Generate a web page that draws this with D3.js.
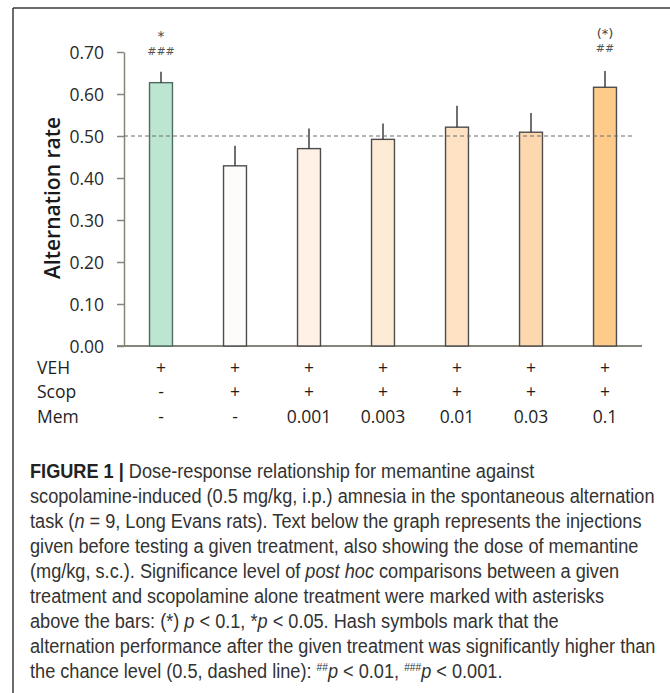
<!DOCTYPE html>
<html>
<head>
<meta charset="utf-8">
<script src="https://cdn.jsdelivr.net/npm/d3@7"></script>
<style>
  html, body { margin: 0; padding: 0; background: #fff; }
  svg { display: block; }
</style>
</head>
<body>
<div id="chart"></div>
<script>
// data
const groups = ["g1", "g2", "g3", "g4", "g5", "g6", "g7"];
const means = [0.627, 0.429, 0.470, 0.492, 0.521, 0.509, 0.616];
const sem = [0.026, 0.048, 0.048, 0.038, 0.051, 0.046, 0.039];
const yTicks = [0, 0.1, 0.2, 0.3, 0.4, 0.5, 0.6, 0.7];
const chanceLevel = 0.5;
const rowNames = ["VEH", "Scop", "Mem"];
const vehRow = ["+", "+", "+", "+", "+", "+", "+"];
const scopRow = ["-", "+", "+", "+", "+", "+", "+"];
const memRow = ["-", "-", "0.001", "0.003", "0.01", "0.03", "0.1"];
const starLabels = ["*", "", "", "", "", "", "(*)"];
const hashLabels = ["###", "", "", "", "", "", "##"];
const barColors = ["#bde6d2", "#fefcfa", "#fff1e5", "#feebd6", "#fee2c3", "#fdd8ae", "#fecb8b"];

const width = 670;
const height = 693;

const svg = d3
  .select("#chart")
  .append("svg")
  .attr("width", width)
  .attr("height", height);

// frame (top + left rule)
svg.append("line").attr("x1", 13).attr("x2", width).attr("y1", 8).attr("y2", 8)
  .attr("stroke", "#3a3a3a").attr("stroke-width", 1.5);
svg.append("line").attr("x1", 13).attr("x2", 13).attr("y1", 8).attr("y2", height)
  .attr("stroke", "#3a3a3a").attr("stroke-width", 1.5);

const x = d3.scaleBand().domain(groups).range([124, 642]).paddingInner(0.69).paddingOuter(0.345);
const y = d3.scaleLinear().domain([0, 0.7]).range([346, 52]);

const axisColor = "#85857a";
const font = "'Open Sans', 'Noto Sans', sans-serif";

// y axis
const yAxis = svg.append("g")
  .attr("transform", "translate(124,0)")
  .call(d3.axisLeft(y).tickValues(yTicks).tickFormat(d3.format(".2f")).tickSize(7).tickSizeOuter(0).tickPadding(13));
yAxis.select(".domain").attr("stroke", axisColor).attr("stroke-width", 1.5);
yAxis.selectAll(".tick line").attr("stroke", axisColor).attr("stroke-width", 1.5);
yAxis.selectAll(".tick text")
  .attr("fill", "#2a2a2a")
  .style("font-family", font)
  .style("font-size", "17.5px")
  .attr("dy", "0.35em");

// x axis baseline
svg.append("line")
  .attr("x1", 117).attr("x2", 642)
  .attr("y1", y(0)).attr("y2", y(0))
  .attr("stroke", axisColor).attr("stroke-width", 2);

// y title
svg.append("text")
  .attr("transform", "translate(60,198) rotate(-90)")
  .attr("text-anchor", "middle")
  .style("font-family", font)
  .style("font-weight", 600)
  .style("font-size", "21px")
  .attr("fill", "#1a1a1a")
  .text("Alternation rate");

// bars
svg.selectAll("rect.bar")
  .data(groups)
  .enter()
  .append("rect")
  .attr("class", "bar")
  .attr("x", (d) => x(d))
  .attr("width", x.bandwidth())
  .attr("y", (d, i) => y(means[i]))
  .attr("height", (d, i) => y(0) - y(means[i]))
  .attr("fill", (d, i) => barColors[i])
  .attr("stroke", (d, i) => (i === 0 ? "#4f6b5e" : "#4d4d4d"))
  .attr("stroke-width", 1.4);

// error bars (upper only)
svg.selectAll("line.err")
  .data(groups)
  .enter()
  .append("line")
  .attr("class", "err")
  .attr("x1", (d) => x(d) + x.bandwidth() / 2)
  .attr("x2", (d) => x(d) + x.bandwidth() / 2)
  .attr("y1", (d, i) => y(means[i]))
  .attr("y2", (d, i) => y(means[i] + sem[i]))
  .attr("stroke", "#333")
  .attr("stroke-width", 1.4);

// chance level
svg.append("line")
  .attr("x1", 124).attr("x2", 633)
  .attr("y1", y(chanceLevel)).attr("y2", y(chanceLevel))
  .attr("stroke", "#6d6d6d")
  .attr("stroke-width", 1)
  .attr("stroke-dasharray", "4,3");

// significance marks
svg.selectAll("text.star")
  .data(groups)
  .enter()
  .append("text")
  .attr("class", "star")
  .attr("x", (d) => x(d) + x.bandwidth() / 2)
  .attr("y", (d, i) => (starLabels[i].startsWith("(") ? 38 : 41))
  .attr("text-anchor", "middle")
  .style("font-family", "'DejaVu Sans', sans-serif")
  .style("font-size", (d, i) => (starLabels[i].startsWith("(") ? "13px" : "14px"))
  .attr("fill", "#444")
  .text((d, i) => starLabels[i]);

svg.selectAll("text.hash")
  .data(groups)
  .enter()
  .append("text")
  .attr("class", "hash")
  .attr("x", (d) => x(d) + x.bandwidth() / 2)
  .attr("y", (d, i) => (hashLabels[i].length === 2 ? 52 : 55))
  .attr("text-anchor", "middle")
  .style("font-family", "'DejaVu Sans', sans-serif")
  .style("font-size", "11px")
  .attr("fill", "#555")
  .text((d, i) => hashLabels[i]);

// treatment table under the bars
const rows = [vehRow, scopRow, memRow];
const rowY = [374, 398, 423];
rows.forEach((row, r) => {
  svg.append("text")
    .attr("x", 37)
    .attr("y", rowY[r])
    .style("font-family", font)
    .style("font-size", "17.5px")
    .attr("fill", "#1f1f1f")
    .text(rowNames[r]);
  svg.selectAll("text.row" + r)
    .data(groups)
    .enter()
    .append("text")
    .attr("class", "row" + r)
    .attr("x", (d) => x(d) + x.bandwidth() / 2)
    .attr("y", rowY[r])
    .attr("text-anchor", "middle")
    .style("font-family", font)
    .style("font-size", "17.5px")
    .attr("fill", "#1f1f1f")
    .text((d, i) => row[i]);
});

// caption
const captionLines = [
  [["b", "FIGURE 1 | "], ["", "Dose-response relationship for memantine against"]],
  [["", "scopolamine-induced (0.5 mg/kg, i.p.) amnesia in the spontaneous alternation"]],
  [["", "task ("], ["i", "n"], ["", " = 9, Long Evans rats). Text below the graph represents the injections"]],
  [["", "given before testing a given treatment, also showing the dose of memantine"]],
  [["", "(mg/kg, s.c.). Significance level of "], ["i", "post hoc"], ["", " comparisons between a given"]],
  [["", "treatment and scopolamine alone treatment were marked with asterisks"]],
  [["", "above the bars: (*) "], ["i", "p"], ["", " < 0.1, *"], ["i", "p"], ["", " < 0.05. Hash symbols mark that the"]],
  [["", "alternation performance after the given treatment was significantly higher than"]],
  [["", "the chance level (0.5, dashed line): "], ["s", "##"], ["i", "p"], ["", " < 0.01, "], ["s", "###"], ["i", "p"], ["", " < 0.001."]]
];

// no narrow face installed, so the caption is squeezed horizontally
const caption = svg.append("g")
  .style("font-family", "'Liberation Sans', Arial, sans-serif")
  .style("font-size", "19.5px")
  .attr("fill", "#333");

const captionTexts = [];
captionLines.forEach((parts, li) => {
  const t = caption.append("text").attr("x", 0).attr("y", 478 + li * 25);
  let raised = false;
  parts.forEach(([kind, str]) => {
    const ts = t.append("tspan").text(str);
    if (kind === "b") ts.style("font-weight", "bold").attr("fill", "#222");
    if (kind === "i") ts.style("font-style", "italic");
    if (kind === "s") {
      ts.style("font-size", "11px").attr("dy", "-7");
      raised = true;
    } else if (raised) {
      ts.attr("dy", "7");
      raised = false;
    }
  });
  captionTexts.push(t);
});

const refWidth = captionTexts[1].node().getComputedTextLength();
const squeeze = 625 / refWidth;
caption.attr("transform", `translate(30,0) scale(${squeeze},1)`);
</script>
</body>
</html>
